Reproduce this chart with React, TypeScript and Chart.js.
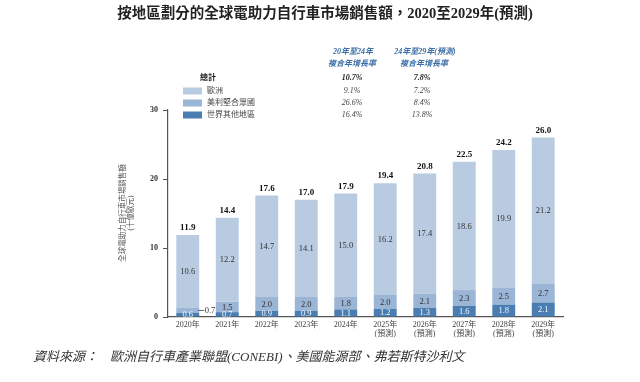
import React, { useEffect, useRef } from "react";
import { Chart, registerables } from "chart.js";

Chart.register(...registerables);

const FONT = '"Liberation Serif", "Noto Sans CJK TC", serif';

const categories = ["2020年", "2021年", "2022年", "2023年", "2024年", "2025年", "2026年", "2027年", "2028年", "2029年"];
const forecast = [false, false, false, false, false, true, true, true, true, true];
const europe = [10.6, 12.2, 14.7, 14.1, 15.0, 16.2, 17.4, 18.6, 19.9, 21.2];
const americas = [0.7, 1.5, 2.0, 2.0, 1.8, 2.0, 2.1, 2.3, 2.5, 2.7];
const restOfWorld = [0.6, 0.7, 0.9, 0.9, 1.1, 1.2, 1.3, 1.6, 1.8, 2.1];
const totals = [11.9, 14.4, 17.6, 17.0, 17.9, 19.4, 20.8, 22.5, 24.2, 26.0];
const yTicks = [0, 10, 20, 30];

const legendNames = ["歐洲", "美利堅合眾國", "世界其他地區"];
const cagr2024 = ["9.1%", "26.6%", "16.4%"];
const cagr2029 = ["7.2%", "8.4%", "13.8%"];
const totalCagr = ["10.7%", "7.8%"];

const TITLE = "按地區劃分的全球電助力自行車市場銷售額，2020至2029年(預測)";
const Y_TITLE = ["全球電助力自行車市場銷售額", "(十億歐元)"];
const SOURCE_LABEL = "資料來源：";
const SOURCE_TEXT = "歐洲自行車產業聯盟(CONEBI)、美國能源部、弗若斯特沙利文";

const C_EU = "#b8cbe1";
const C_AM = "#9ab5d6";
const C_ROW = "#4a7db1";
const C_HEAD = "#3e70a8";

const overlay = {
  id: "overlay",
  afterDatasetsDraw(chart: any) {
    const ctx = chart.ctx;
    ctx.save();
    ctx.textAlign = "center";
    ctx.textBaseline = "middle";
    const metas = [0, 1, 2].map((i) => chart.getDatasetMeta(i));
    const sets = [restOfWorld, americas, europe];
    for (let j = 0; j < categories.length; j++) {
      for (let i = 0; i < 3; i++) {
        const el: any = metas[i].data[j];
        const cy = (el.y + el.base) / 2;
        const v = sets[i][j];
        ctx.font = "8.5px " + FONT;
        ctx.fillStyle = i === 0 ? "#f2f6fb" : "#333";
        if (i === 1 && j === 0) {
          const right = el.x + el.width / 2;
          ctx.strokeStyle = "#444";
          ctx.lineWidth = 0.8;
          ctx.beginPath();
          ctx.moveTo(right - 1, cy);
          ctx.lineTo(right + 5, cy);
          ctx.stroke();
          ctx.fillStyle = "#333";
          ctx.textAlign = "left";
          ctx.fillText(v.toFixed(1), right + 5.5, cy);
          ctx.textAlign = "center";
        } else {
          ctx.fillText(v.toFixed(1), el.x, cy + 0.5);
        }
      }
      const top: any = metas[2].data[j];
      ctx.font = "bold 9px " + FONT;
      ctx.fillStyle = "#111";
      ctx.fillText(totals[j].toFixed(1), top.x, top.y - 7);
    }
    ctx.restore();
  },
  afterDraw(chart: any) {
    const ctx = chart.ctx;
    ctx.save();
    ctx.textBaseline = "middle";
    // title
    ctx.textAlign = "center";
    ctx.fillStyle = "#222";
    ctx.font = "bold 14.5px " + FONT;
    ctx.fillText(TITLE, 325, 14);

    // table header
    ctx.fillStyle = C_HEAD;
    ctx.font = "italic bold 8px " + FONT;
    ctx.fillText("20年至24年", 353, 52);
    ctx.fillText("複合年增長率", 352, 64);
    ctx.fillText("24年至29年(預測)", 425, 52);
    ctx.fillText("複合年增長率", 424, 64);

    // total row
    ctx.fillStyle = "#222";
    ctx.textAlign = "left";
    ctx.font = "bold 8px " + FONT;
    ctx.fillText("總計", 200, 78);
    ctx.textAlign = "center";
    ctx.font = "italic bold 8px " + FONT;
    ctx.fillText(totalCagr[0], 352, 78);
    ctx.fillText(totalCagr[1], 422, 78);

    const colors = [C_EU, C_AM, C_ROW];
    const rowsY = [91, 103, 115];
    for (let i = 0; i < 3; i++) {
      const y = rowsY[i];
      ctx.fillStyle = colors[i];
      ctx.fillRect(183, y - 3.5, 19, 7);
      ctx.fillStyle = "#444";
      ctx.textAlign = "left";
      ctx.font = "8px " + FONT;
      ctx.fillText(legendNames[i], 207, y);
      ctx.textAlign = "center";
      ctx.font = "italic 8px " + FONT;
      ctx.fillText(cagr2024[i], 352, y);
      ctx.fillText(cagr2029[i], 422, y);
    }

    // y-axis title
    ctx.save();
    ctx.translate(123, 213);
    ctx.rotate(-Math.PI / 2);
    ctx.textAlign = "center";
    ctx.fillStyle = "#555";
    ctx.font = "7.5px " + FONT;
    ctx.fillText(Y_TITLE[0], 0, 0);
    ctx.fillText(Y_TITLE[1], 0, 8);
    ctx.restore();

    // source
    ctx.textAlign = "left";
    ctx.fillStyle = "#333";
    ctx.font = "italic 13px " + FONT;
    ctx.fillText(SOURCE_LABEL, 33, 358);
    ctx.fillText(SOURCE_TEXT, 110, 358);
    ctx.restore();
  },
};

export default function App() {
  const ref = useRef<HTMLCanvasElement | null>(null);
  useEffect(() => {
    document.body.style.margin = "0";
    const canvas = ref.current;
    if (!canvas) return;
    const labels = categories.map((c, i) => (forecast[i] ? [c, "(預測)"] : [c]));
    const chart = new Chart(canvas, {
      type: "bar",
      data: {
        labels,
        datasets: [
          { label: legendNames[2], data: restOfWorld, backgroundColor: C_ROW, barPercentage: 0.58, categoryPercentage: 1 },
          { label: legendNames[1], data: americas, backgroundColor: C_AM, barPercentage: 0.58, categoryPercentage: 1 },
          { label: legendNames[0], data: europe, backgroundColor: C_EU, barPercentage: 0.58, categoryPercentage: 1 },
        ],
      },
      options: {
        animation: false,
        responsive: false,
        layout: { padding: { top: 110, right: 77, left: 0, bottom: 0 } },
        plugins: { legend: { display: false }, tooltip: { enabled: false }, title: { display: false } },
        scales: {
          x: {
            stacked: true,
            grid: { display: false, drawTicks: false },
            border: { display: true, color: "#555", width: 1.2 },
            ticks: {
              color: "#444",
              font: { family: FONT, size: 8 },
              padding: 3,
              maxRotation: 0,
              autoSkip: false,
            },
            afterFit: (s: any) => {
              s.height = 65;
            },
          },
          y: {
            stacked: true,
            min: 0,
            max: 30,
            afterBuildTicks: (s: any) => {
              s.ticks = yTicks.map((v) => ({ value: v }));
            },
            grid: { drawOnChartArea: false, drawTicks: true, tickLength: 5, color: "#555" },
            border: { display: true, color: "#555", width: 1.2 },
            ticks: {
              color: "#333",
              font: { family: FONT, size: 8, weight: "bold" },
              padding: 5,
            },
            afterFit: (s: any) => {
              s.width = 168;
            },
          },
        },
      },
      plugins: [overlay],
    } as any);
    return () => chart.destroy();
  }, []);
  return (
    <div style={{ width: 640, height: 382, background: "#fff" }}>
      <canvas ref={ref} width={640} height={382} style={{ display: "block", width: 640, height: 382 }} />
    </div>
  );
}
